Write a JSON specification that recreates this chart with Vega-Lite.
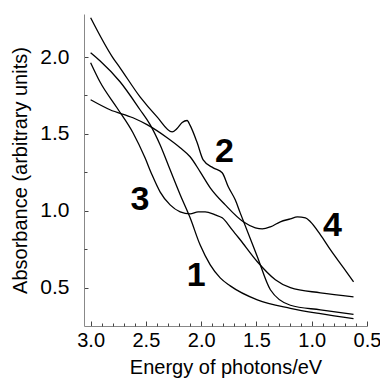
{
  "$schema": "https://vega.github.io/schema/vega-lite/v6.json",
  "width": 283,
  "height": 312,
  "autosize": {"type": "none"},
  "padding": {"left": 84, "top": 14, "right": 13, "bottom": 54},
  "background": "white",
  "config": {
    "view": {"stroke": null},
    "font": "Liberation Sans"
  },
  "datasets": {
    "curves": [
      {"curve": "1", "E": 3.0, "A": 2.028},
      {"curve": "1", "E": 2.916, "A": 1.976},
      {"curve": "1", "E": 2.734, "A": 1.839},
      {"curve": "1", "E": 2.553, "A": 1.657},
      {"curve": "1", "E": 2.462, "A": 1.56},
      {"curve": "1", "E": 2.372, "A": 1.429},
      {"curve": "1", "E": 2.281, "A": 1.266},
      {"curve": "1", "E": 2.19, "A": 1.104},
      {"curve": "1", "E": 2.1, "A": 0.954},
      {"curve": "1", "E": 2.01, "A": 0.778},
      {"curve": "1", "E": 1.918, "A": 0.648},
      {"curve": "1", "E": 1.828, "A": 0.563},
      {"curve": "1", "E": 1.737, "A": 0.511},
      {"curve": "1", "E": 1.492, "A": 0.42},
      {"curve": "1", "E": 1.193, "A": 0.365},
      {"curve": "1", "E": 0.921, "A": 0.33},
      {"curve": "1", "E": 0.622, "A": 0.298},
      {"curve": "2", "E": 3.0, "A": 2.256},
      {"curve": "2", "E": 2.798, "A": 1.995},
      {"curve": "2", "E": 2.734, "A": 1.93},
      {"curve": "2", "E": 2.553, "A": 1.741},
      {"curve": "2", "E": 2.399, "A": 1.611},
      {"curve": "2", "E": 2.263, "A": 1.513},
      {"curve": "2", "E": 2.218, "A": 1.535},
      {"curve": "2", "E": 2.172, "A": 1.574},
      {"curve": "2", "E": 2.127, "A": 1.587},
      {"curve": "2", "E": 2.1, "A": 1.555},
      {"curve": "2", "E": 2.036, "A": 1.442},
      {"curve": "2", "E": 1.982, "A": 1.331},
      {"curve": "2", "E": 1.891, "A": 1.279},
      {"curve": "2", "E": 1.81, "A": 1.247},
      {"curve": "2", "E": 1.755, "A": 1.156},
      {"curve": "2", "E": 1.692, "A": 1.071},
      {"curve": "2", "E": 1.647, "A": 0.986},
      {"curve": "2", "E": 1.492, "A": 0.701},
      {"curve": "2", "E": 1.374, "A": 0.486},
      {"curve": "2", "E": 1.193, "A": 0.385},
      {"curve": "2", "E": 0.921, "A": 0.355},
      {"curve": "2", "E": 0.622, "A": 0.325},
      {"curve": "3", "E": 3.0, "A": 1.963},
      {"curve": "3", "E": 2.916, "A": 1.839},
      {"curve": "3", "E": 2.762, "A": 1.67},
      {"curve": "3", "E": 2.617, "A": 1.507},
      {"curve": "3", "E": 2.508, "A": 1.344},
      {"curve": "3", "E": 2.445, "A": 1.234},
      {"curve": "3", "E": 2.372, "A": 1.123},
      {"curve": "3", "E": 2.281, "A": 1.038},
      {"curve": "3", "E": 2.19, "A": 0.993},
      {"curve": "3", "E": 2.1, "A": 0.98},
      {"curve": "3", "E": 2.027, "A": 0.993},
      {"curve": "3", "E": 1.964, "A": 0.993},
      {"curve": "3", "E": 1.873, "A": 0.973},
      {"curve": "3", "E": 1.81, "A": 0.954},
      {"curve": "3", "E": 1.719, "A": 0.876},
      {"curve": "3", "E": 1.647, "A": 0.811},
      {"curve": "3", "E": 1.492, "A": 0.668},
      {"curve": "3", "E": 1.329, "A": 0.551},
      {"curve": "3", "E": 1.193, "A": 0.499},
      {"curve": "3", "E": 0.921, "A": 0.466},
      {"curve": "3", "E": 0.622, "A": 0.44},
      {"curve": "4", "E": 3.0, "A": 1.722},
      {"curve": "4", "E": 2.825, "A": 1.657},
      {"curve": "4", "E": 2.617, "A": 1.605},
      {"curve": "4", "E": 2.49, "A": 1.56},
      {"curve": "4", "E": 2.308, "A": 1.475},
      {"curve": "4", "E": 2.19, "A": 1.41},
      {"curve": "4", "E": 2.1, "A": 1.351},
      {"curve": "4", "E": 2.009, "A": 1.253},
      {"curve": "4", "E": 1.918, "A": 1.149},
      {"curve": "4", "E": 1.782, "A": 1.038},
      {"curve": "4", "E": 1.619, "A": 0.928},
      {"curve": "4", "E": 1.51, "A": 0.889},
      {"curve": "4", "E": 1.447, "A": 0.882},
      {"curve": "4", "E": 1.374, "A": 0.895},
      {"curve": "4", "E": 1.284, "A": 0.928},
      {"curve": "4", "E": 1.193, "A": 0.947},
      {"curve": "4", "E": 1.13, "A": 0.96},
      {"curve": "4", "E": 1.057, "A": 0.954},
      {"curve": "4", "E": 1.012, "A": 0.928},
      {"curve": "4", "E": 0.921, "A": 0.843},
      {"curve": "4", "E": 0.83, "A": 0.745},
      {"curve": "4", "E": 0.712, "A": 0.628},
      {"curve": "4", "E": 0.622, "A": 0.537}
    ],
    "labels": [
      {"label": "1", "E": 2.045, "A": 0.576},
      {"label": "2", "E": 1.79, "A": 1.38},
      {"label": "3", "E": 2.553, "A": 1.071},
      {"label": "4", "E": 0.812, "A": 0.898}
    ]
  },
  "resolve": {"axis": {"x": "independent", "y": "independent"}},
  "layer": [
    {
      "data": {"name": "curves"},
      "mark": {"type": "line", "interpolate": "monotone", "color": "black", "strokeWidth": 1.3},
      "encoding": {
        "x": {
          "field": "E", "type": "quantitative",
          "scale": {"domain": [0.5, 3.06], "reverse": true, "nice": false, "zero": false},
          "axis": {
            "orient": "bottom",
            "title": "Energy of photons/eV",
            "values": [3.0, 2.5, 2.0, 1.5, 1.0, 0.5],
            "format": ".1f",
            "labelOverlap": false,
            "labelBound": false,
            "labelFlush": false,
            "grid": false,
            "tickSize": -5,
            "tickColor": "#444",
            "domainColor": "#888",
            "labelFontSize": 20,
            "labelColor": "black",
            "labelPadding": 9,
            "titleFontSize": 20,
            "titleFontWeight": "normal",
            "titleColor": "black",
            "titlePadding": 7
          }
        },
        "y": {
          "field": "A", "type": "quantitative",
          "scale": {"domain": [0.25, 2.28], "nice": false, "zero": false},
          "axis": {
            "orient": "left",
            "title": "Absorbance (arbitrary units)",
            "values": [0.5, 1.0, 1.5, 2.0],
            "format": ".1f",
            "labelOverlap": false,
            "labelBound": false,
            "labelFlush": false,
            "grid": false,
            "tickSize": -4,
            "tickColor": "#444",
            "domainColor": "#888",
            "labelFontSize": 21,
            "labelColor": "black",
            "labelPadding": 19,
            "titleFontSize": 20,
            "titleFontWeight": "normal",
            "titleColor": "black",
            "titlePadding": 9
          }
        },
        "detail": {"field": "curve"},
        "order": {"field": "E", "sort": "descending"}
      }
    },
    {
      "data": {"name": "labels"},
      "mark": {"type": "text", "fontSize": 34, "fontWeight": "bold", "color": "black", "align": "center", "baseline": "middle"},
      "encoding": {
        "x": {
          "field": "E", "type": "quantitative",
          "axis": {
            "orient": "bottom",
            "title": null,
            "values": [2.9, 2.8, 2.7, 2.6, 2.4, 2.3, 2.2, 2.1, 1.9, 1.8, 1.7, 1.6, 1.4, 1.3, 1.2, 1.1, 0.9, 0.8, 0.7, 0.6],
            "labels": false,
            "domain": false,
            "grid": false,
            "tickSize": -3,
            "tickColor": "#444"
          }
        },
        "y": {
          "field": "A", "type": "quantitative",
          "axis": {
            "orient": "left",
            "title": null,
            "values": [0.75, 1.25, 1.75],
            "labels": false,
            "domain": false,
            "grid": false,
            "tickSize": -3,
            "tickColor": "#444"
          }
        },
        "text": {"field": "label"}
      }
    }
  ]
}
